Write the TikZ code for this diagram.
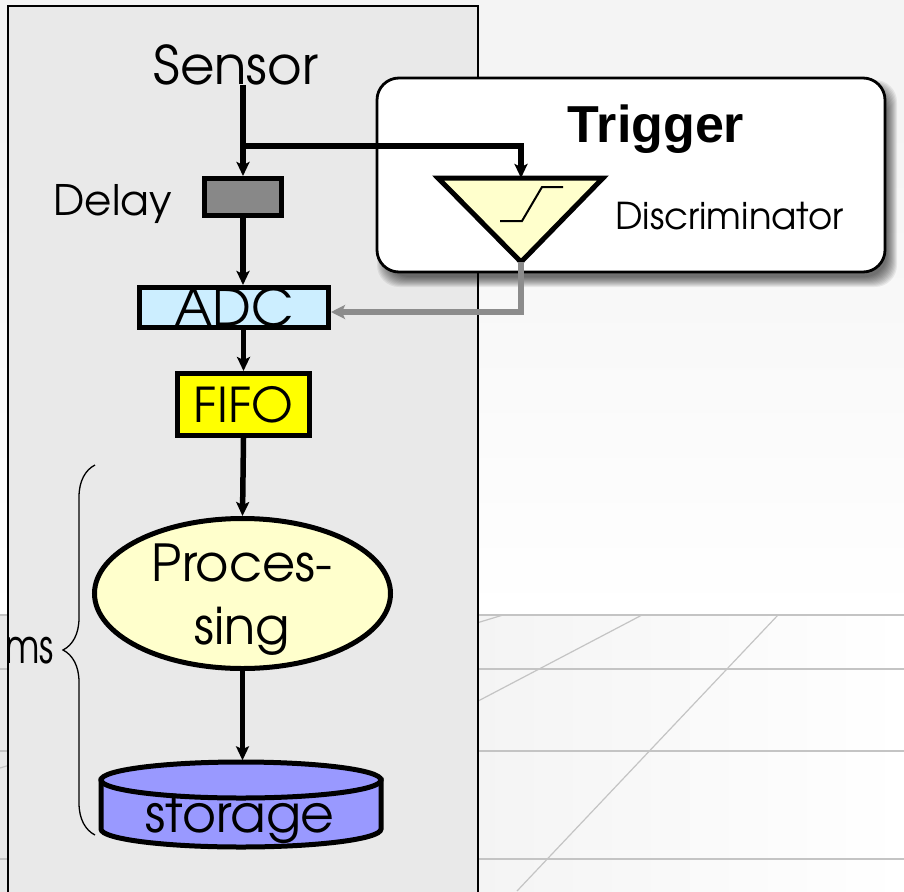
\documentclass[tikz,border=0pt]{standalone}
\usepackage{fontspec}
\setmainfont{TeX Gyre Adventor}
\newfontfamily\arialfont{Liberation Sans}
\newfontfamily\narrowfont[FakeStretch=0.78]{TeX Gyre Adventor}
\usetikzlibrary{arrows.meta,decorations.pathreplacing,shapes.geometric}
\definecolor{panelgray}{HTML}{E9E9E9}
\definecolor{delaygray}{HTML}{888888}
\definecolor{adcblue}{HTML}{CCEEFF}
\definecolor{fifoyellow}{HTML}{FFFF00}
\definecolor{paleyellow}{HTML}{FFFFCC}
\definecolor{storeblue}{HTML}{9999FF}
\definecolor{trigline}{HTML}{8C8C8C}
\definecolor{gridgray}{HTML}{C4C4C4}
\definecolor{bgtop}{HTML}{F4F4F4}
\tikzset{
  conn/.style={line width=5.5pt, -{Stealth[length=14pt,width=13pt,inset=3pt]}},
  trigconn/.style={line width=5.5pt, draw=trigline, -{Stealth[length=14pt,width=14pt,inset=3pt]}},
  blockbox/.style={draw=black, line width=5pt, inner sep=0pt},
  lbl/.style={inner sep=0pt},
  gridline/.style={draw=gridgray, line width=1.2pt},
}
\begin{document}
\begin{tikzpicture}[x=1pt,y=-1pt]
\useasboundingbox (0,0) rectangle (904,891);
% background
\fill[bgtop] (0,0) rectangle (904,891);
\shade[top color=bgtop, bottom color=white] (0,120) rectangle (904,615);
\shade[left color=bgtop!95!black, right color=white] (0,615) rectangle (904,891);
\draw[gridline] (0,615) -- (904,615);
\draw[gridline] (0,669) -- (904,669);
\draw[gridline] (0,751) -- (904,751);
\draw[gridline] (0,859) -- (904,859);
\draw[gridline] (503,615) -- (0,768);
\draw[gridline] (642,615) -- (0,952);
\draw[gridline] (778,615) -- (517,891);
% main panel
\draw[fill=panelgray, line width=2.5pt] (8,6) rectangle (478,900);
% brace and label
\draw[line width=1.3pt, decorate, decoration={brace, amplitude=32pt, aspect=0.5}] (95,835) -- (95,465);
\node[lbl, anchor=base east, font=\narrowfont\fontsize{47}{56}\selectfont] (mslbl) at (54,663) {ms};
% trigger box with shadow
\foreach \k in {0,...,10} {
  \fill[black, opacity=0.065, rounded corners=22pt] (387-\k,90-\k) rectangle (897+\k-10,287+\k-10);
}
\node[draw=black, fill=white, line width=2.8pt, rounded corners=22pt, minimum width=508pt, minimum height=194pt, inner sep=0pt] (trigbox) at (631,175) {};
\node[lbl, anchor=base, font=\arialfont\bfseries\fontsize{52}{60}\selectfont] (triglbl) at (656,142) {Trigger};
\node[lbl, anchor=base west, font=\fontsize{37}{42}\selectfont] (disclbl) at (615,229) {Discriminator};
% discriminator triangle
\coordinate (disctop) at (521,178);
\coordinate (discapex) at (521,262);
\draw[fill=paleyellow, line width=5pt] (438,178) -- (603,178) -- (discapex) -- cycle;
\draw[line width=2pt] (500,221) -- (522,221) -- (542,187) -- (563,187);
% blocks
\node[lbl, anchor=base, font=\fontsize{53}{60}\selectfont] (sensor) at (236,84) {Sensor};
\node[blockbox, fill=delaygray, minimum width=77pt, minimum height=37pt] (delay) at (243,197) {};
\node[lbl, anchor=base east, font=\fontsize{42}{48}\selectfont] (delaylbl) at (172,215) {Delay};
\node[blockbox, fill=adcblue, minimum width=189pt, minimum height=40pt, font=\fontsize{52}{60}\selectfont] (adc) at (234,307.5) {ADC};
\node[blockbox, fill=fifoyellow, minimum width=132pt, minimum height=62pt, font=\fontsize{48}{56}\selectfont] (fifo) at (243.5,404.5) {FIFO};
\node[blockbox, ellipse, fill=paleyellow, minimum width=296pt, minimum height=150pt] (proc) at (242.5,593.5) {};
\node[lbl, align=center, font=\fontsize{51}{63}\selectfont] (proclbl) at (242,600) {Proces-\\sing};
% storage cylinder
\node[lbl, minimum width=282pt, minimum height=87pt] (stor) at (241,804) {};
\draw[fill=storeblue, line width=5pt] (101,780) -- (101,829) arc[start angle=180, end angle=0, x radius=140, y radius=18] -- (381,780) -- cycle;
\draw[fill=storeblue, line width=5pt] (241,780) ellipse [x radius=140, y radius=18];
\node[lbl, anchor=base, font=\fontsize{52}{56}\selectfont] (storlbl) at (240,832) {storage};
% connectors
\coordinate (br) at (243,146);
\draw[line width=5.5pt] (sensor.south -| delay) -- (br);
\draw[conn] (br) -- (delay.north);
\draw[conn] (br) -| (disctop);
\draw[conn] (delay.south) -- (delay.south |- adc.north);
\draw[conn] (adc.south -| fifo) -- (fifo.north);
\draw[conn] (fifo.south) -- (proc.north);
\draw[conn] (proc.south) -- (proc.south |- stor.north);
\draw[trigconn] (discapex) |- (adc.east |- 0,312);
\end{tikzpicture}
\end{document}
